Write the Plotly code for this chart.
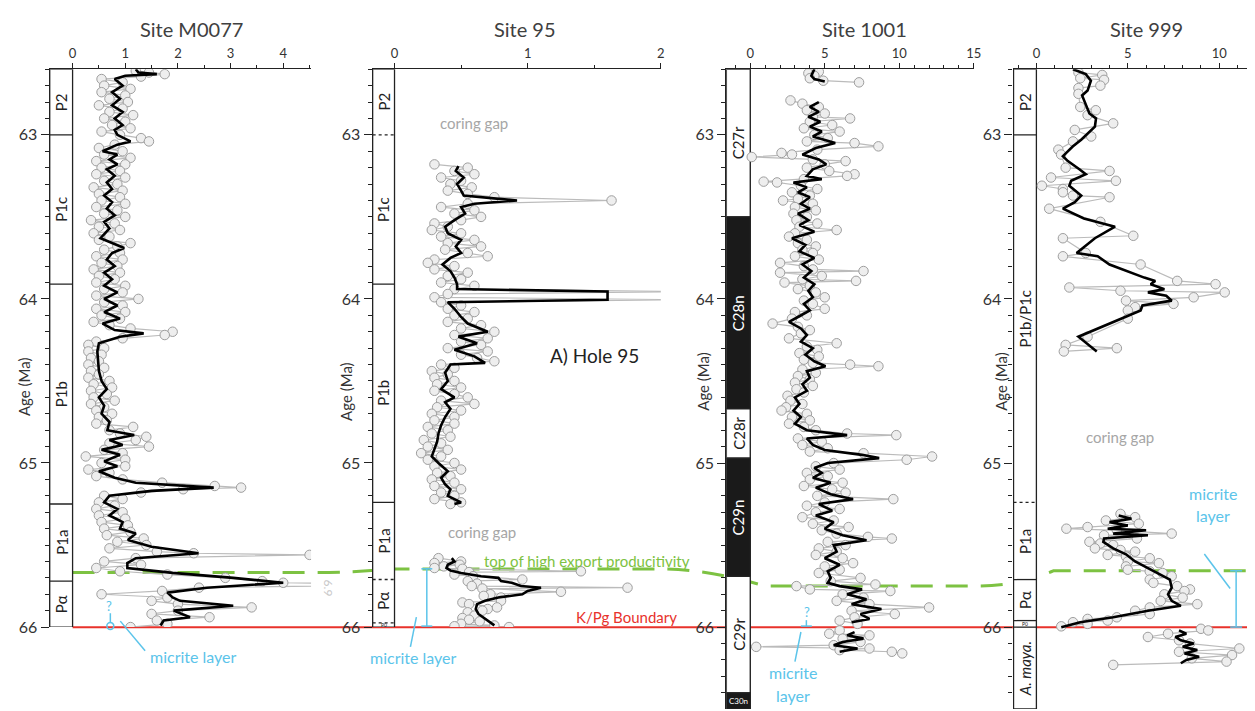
import plotly.graph_objects as go

W, H = 1255, 711
FONT = "Lato"

# ---------------- DATA ----------------
# Site M0077 raw (age Ma, value)
m77_age = [62.61,62.62,62.63,62.645,62.66,62.68,62.70,62.72,62.74,62.76,
           62.78,62.80,62.82,62.84,62.86,62.88,62.90,62.92,62.94,62.96,
           62.98,63.00,63.02,63.04,63.06,63.08,63.10,63.12,63.14,63.16,
           63.18,63.20,63.22,63.24,63.26,63.28,63.30,63.32,63.34,63.36,
           63.38,63.40,63.42,63.44,63.46,63.48,63.50,63.52,63.54,63.56,
           63.58,63.60,63.62,63.64,63.66,63.68,63.70,63.72,63.74,63.76,
           63.78,63.80,63.82,63.84,63.86,63.88,63.90,63.92,63.94,63.96,
           63.98,64.00,64.02,64.04,64.06,64.08,64.10,64.12,64.14,64.16,
           64.18,64.20,64.22,64.24,64.26,64.28,64.30,64.32,64.34,64.36,
           64.38,64.40,64.42,64.44,64.46,64.48,64.50,64.52,64.54,64.56,
           64.58,64.60,64.62,64.64,64.66,64.68,64.70,64.72,64.74,64.76,
           64.78,64.80,64.82,64.84,64.86,64.88,64.90,64.92,64.94,64.96,
           64.98,65.00,65.02,65.04,65.06,65.08,65.10,65.12,65.14,65.15,
           65.16,65.18,65.20,65.22,65.24,65.26,65.28,65.30,65.32,65.34,
           65.36,65.38,65.40,65.42,65.44,65.46,65.48,65.50,65.52,65.54,
           65.55,65.56,65.58,65.60,65.62,65.64,65.66,65.68,65.70,65.72,
           65.73,65.74,65.76,65.78,65.80,65.82,65.84,65.86,65.88,65.90,
           65.92,65.94,65.96,65.98,66.00]
m77_val = [1.2,1.45,1.75,1.3,0.55,0.95,0.6,1.1,0.55,1.0,
           0.7,1.05,0.5,0.95,0.7,1.15,0.6,1.0,0.75,1.1,
           0.55,0.9,1.3,1.45,0.8,0.5,0.95,0.6,1.1,0.45,
           1.0,0.55,0.9,0.45,1.0,0.6,0.85,0.4,0.95,0.5,
           0.9,0.55,1.0,0.45,0.85,0.6,1.0,0.35,0.8,0.5,
           0.9,0.4,0.7,0.5,1.1,0.85,0.6,0.9,0.45,0.95,
           0.55,0.85,0.4,0.9,0.5,0.8,0.45,1.0,0.6,0.95,
           0.45,1.25,0.6,0.95,0.45,1.0,0.55,0.9,0.4,0.7,
           1.1,1.9,1.75,0.95,0.45,0.3,0.6,0.3,0.55,0.35,
           0.5,0.3,0.6,0.35,0.5,0.3,0.7,0.4,0.75,0.35,
           0.65,0.4,0.8,0.35,0.6,0.45,0.75,0.5,0.65,0.45,
           1.15,0.7,0.9,1.4,1.2,0.7,1.45,0.6,0.95,0.25,
           1.0,0.55,1.0,0.3,0.7,0.45,0.95,1.7,2.7,3.2,
           2.1,1.3,0.6,0.95,0.5,0.8,0.45,0.95,0.5,1.0,
           0.55,1.05,0.6,1.1,0.65,1.35,0.85,1.4,0.7,1.6,
           2.3,4.5,1.2,0.6,1.3,0.45,0.9,1.8,2.9,3.6,
           4.0,6.9,2.4,1.7,0.55,1.8,1.5,2.0,3.4,2.0,
           1.5,2.6,1.6,1.8,1.1]
# Site M0077 smoothed
m77_s_age = [62.60,62.62,62.63,62.64,62.66,62.70,62.74,62.78,62.82,62.86,
             62.90,62.94,62.97,63.00,63.04,63.06,63.10,63.12,63.15,63.18,
             63.21,63.25,63.29,63.33,63.37,63.41,63.45,63.49,63.53,63.57,
             63.63,63.66,63.69,63.72,63.76,63.80,63.84,63.88,63.92,63.96,
             64.00,64.04,64.08,64.12,64.15,64.19,64.21,64.23,64.27,64.32,
             64.38,64.44,64.50,64.55,64.60,64.65,64.70,64.75,64.80,64.83,
             64.86,64.89,64.92,64.95,64.99,65.02,65.05,65.09,65.12,65.14,
             65.15,65.17,65.20,65.24,65.28,65.32,65.36,65.40,65.43,65.47,
             65.51,65.55,65.58,65.61,65.64,65.67,65.70,65.73,65.76,65.79,
             65.82,65.84,65.87,65.90,65.94,65.96,65.99]
m77_s_val = [1.2,1.25,1.6,1.0,0.8,0.95,0.75,0.9,0.75,0.95,
             0.8,0.95,0.8,0.85,1.1,0.85,0.57,0.85,0.7,0.85,
             0.65,0.8,0.65,0.75,0.6,0.75,0.65,0.8,0.6,0.7,
             0.53,0.75,0.98,0.75,0.65,0.8,0.6,0.75,0.6,0.85,
             0.6,0.85,0.6,0.9,0.57,0.8,1.35,0.9,0.5,0.47,
             0.48,0.5,0.55,0.65,0.5,0.6,0.55,0.7,0.66,1.17,
             0.7,0.95,0.55,0.9,0.6,0.85,0.5,0.8,1.2,2.2,
             2.68,1.5,0.7,0.6,0.85,0.7,0.95,0.9,1.2,1.05,
             1.5,2.39,1.2,1.04,1.04,1.9,3.05,4.0,2.55,1.8,
             1.9,2.04,3.05,1.92,2.23,1.73,1.67]

# Site 95 raw, upper and lower segments
s95u_age = [63.18,63.20,63.22,63.24,63.26,63.28,63.30,63.32,63.34,63.36,
            63.38,63.40,63.42,63.44,63.46,63.48,63.50,63.52,63.54,63.56,
            63.58,63.60,63.62,63.64,63.66,63.68,63.70,63.72,63.74,63.76,
            63.78,63.80,63.82,63.84,63.86,63.88,63.90,63.92,63.94,63.955,
            63.97,63.99,64.005,64.02,64.04,64.06,64.08,64.10,64.12,64.14,
            64.16,64.18,64.20,64.22,64.24,64.26,64.28,64.30,64.32,64.34,
            64.36,64.38,64.40,64.42,64.44,64.46,64.48,64.50,64.52,64.54,
            64.56,64.58,64.60,64.62,64.64,64.66,64.68,64.70,64.72,64.74,
            64.76,64.78,64.80,64.82,64.84,64.86,64.88,64.90,64.92,64.94,
            64.96,64.98,65.00,65.02,65.04,65.06,65.08,65.10,65.12,65.14,
            65.16,65.18,65.20,65.22,65.24,65.25]
s95u_val = [0.3,0.55,0.45,0.6,0.35,0.5,0.42,0.58,0.4,0.55,
            0.75,1.63,0.55,0.35,0.6,0.45,0.65,0.5,0.3,0.4,
            0.28,0.5,0.35,0.6,0.4,0.65,0.38,0.55,0.7,0.3,
            0.25,0.45,0.3,0.55,0.4,0.5,0.35,0.6,0.45,2.2,
            0.4,0.3,2.2,0.35,0.5,0.4,0.6,0.45,0.55,0.4,
            0.65,0.5,0.75,0.45,0.7,0.5,0.65,0.4,0.7,0.5,
            0.62,0.75,0.35,0.45,0.28,0.4,0.3,0.45,0.32,0.5,
            0.3,0.45,0.55,0.35,0.6,0.32,0.5,0.28,0.45,0.3,
            0.45,0.25,0.4,0.28,0.42,0.22,0.35,0.25,0.4,0.2,
            0.35,0.25,0.45,0.3,0.5,0.32,0.42,0.28,0.45,0.3,
            0.5,0.35,0.45,0.3,0.5,0.42]
s95l_age = [65.58,65.60,65.61,65.62,65.63,65.64,65.645,65.66,65.665,65.68,
            65.69,65.71,65.72,65.735,65.75,65.76,65.765,65.785,65.80,65.81,
            65.82,65.84,65.85,65.86,65.88,65.89,65.90,65.91,65.93,65.945,
            65.955,65.965,65.98,65.99,65.995,66.0]
s95l_val = [0.33,0.5,0.3,0.49,0.37,0.3,0.51,1.4,0.56,0.45,
            0.59,0.96,0.55,0.62,0.58,1.75,0.66,1.25,0.72,0.67,
            0.8,0.8,0.51,0.56,0.77,0.7,0.66,0.55,0.6,0.51,
            0.56,0.64,0.5,0.75,0.45,0.86]
s95u_s_age = [63.19,63.22,63.26,63.30,63.34,63.37,63.40,63.42,63.44,63.48,
              63.52,63.56,63.60,63.64,63.68,63.72,63.75,63.79,63.83,63.87,
              63.91,63.94,63.955,64.005,64.02,64.06,64.11,64.15,64.20,64.23,
              64.27,64.31,64.35,64.39,64.40,64.45,64.50,64.55,64.60,64.63,
              64.67,64.72,64.77,64.82,64.87,64.92,64.96,65.00,65.05,65.09,
              65.13,65.16,65.20,65.24,65.25]
s95u_s_val = [0.48,0.46,0.52,0.47,0.5,0.52,0.92,0.6,0.5,0.53,
              0.45,0.38,0.4,0.5,0.46,0.5,0.42,0.36,0.42,0.45,
              0.47,0.47,1.6,1.6,0.4,0.45,0.5,0.55,0.7,0.48,
              0.62,0.45,0.6,0.68,0.42,0.38,0.4,0.35,0.45,0.38,
              0.42,0.38,0.35,0.33,0.32,0.3,0.28,0.33,0.4,0.35,
              0.38,0.42,0.4,0.5,0.45]
s95l_s_age = [65.58,65.60,65.62,65.64,65.655,65.67,65.69,65.70,65.72,65.73,
              65.75,65.76,65.78,65.80,65.82,65.84,65.86,65.89,65.92,65.95,
              65.97,65.99]
s95l_s_val = [0.43,0.45,0.4,0.39,0.42,0.5,0.65,0.78,0.8,0.88,
              0.95,1.1,1.0,0.96,0.78,0.68,0.62,0.61,0.63,0.68,
              0.72,0.75]

# Site 1001 raw (three segments)
s1001a_age = [62.605,62.615,62.625,62.64,62.655,62.67,62.68]
s1001a_val = [4.2,4.6,3.9,4.3,4.0,4.9,7.3]
s1001b_age = [62.79,62.81,62.83,62.85,62.87,62.89,62.90,62.92,62.94,62.96,
              62.98,63.00,63.02,63.04,63.05,63.07,63.09,63.11,63.12,63.135,
              63.15,63.16,63.18,63.20,63.22,63.24,63.25,63.27,63.285,63.29,
              63.31,63.33,63.35,63.37,63.39,63.40,63.42,63.44,63.46,63.48,
              63.50,63.52,63.54,63.56,63.58,63.60,63.62,63.64,63.66,63.68,
              63.70,63.72,63.74,63.76,63.78,63.80,63.82,63.83,63.84,63.86,
              63.88,63.89,63.90,63.92,63.94,63.96,63.99,64.01,64.03,64.06,
              64.08,64.10,64.12,64.15,64.17,64.19,64.21,64.24,64.27,64.29,
              64.31,64.33,64.35,64.37,64.39,64.40,64.41,64.43,64.45,64.47,
              64.49,64.51,64.53,64.55,64.57,64.59,64.62,64.64,64.66,64.68,
              64.70,64.72,64.74,64.76,64.78,64.80,64.82,64.83,64.85,64.87,
              64.89,64.91,64.93,64.94,64.96,64.98,65.00,65.02,65.04,65.06,
              65.08,65.10,65.12,65.14,65.16,65.18,65.20,65.22,65.24,65.26,
              65.28,65.30,65.33,65.35,65.37,65.39,65.41,65.43,65.45,65.46,
              65.48,65.50,65.52,65.54,65.56,65.58,65.61,65.63,65.65,65.67,
              65.70,65.72,65.74,65.75,65.77,65.78,65.80,65.82,65.84,65.86,
              65.88,65.90,65.92,65.94,65.96,65.98]
s1001b_val = [2.7,3.5,4.6,3.8,5.0,4.2,6.7,4.0,5.5,3.6,
              6.0,4.3,5.2,3.8,7.0,8.6,4.5,2.1,2.8,0.1,
              4.2,6.4,5.0,3.8,5.3,7.0,6.5,3.6,0.9,1.8,
              3.4,4.5,2.8,4.0,3.2,2.2,4.2,3.0,4.4,2.9,
              3.8,3.1,4.5,3.3,5.8,3.0,2.6,3.8,3.2,4.4,
              3.5,4.2,3.0,4.6,2.0,3.6,4.2,7.6,2.0,4.8,
              3.5,7.1,2.3,4.0,3.2,4.4,5.0,3.6,4.2,5.0,
              3.0,3.8,2.8,1.5,3.2,4.0,3.4,2.6,5.8,3.8,
              4.5,3.3,4.6,3.6,4.2,6.7,8.6,3.5,4.4,3.2,
              4.0,3.0,4.2,3.1,3.6,2.5,2.7,3.5,2.4,2.1,
              3.8,2.8,4.0,2.6,3.6,4.4,6.5,9.8,3.2,4.8,
              3.5,5.2,4.0,7.6,12.2,10.5,5.6,4.4,6.0,3.8,
              5.2,4.0,6.2,3.6,5.5,6.4,4.5,9.6,5.0,3.8,
              6.0,4.4,3.5,5.6,4.2,6.6,4.8,5.8,7.9,9.5,
              5.2,6.4,4.6,5.8,4.4,6.2,6.9,5.0,6.0,4.6,
              7.4,5.4,8.4,3.1,4.0,9.4,6.2,7.6,5.8,8.0,
              12.0,6.8,9.7,7.0,6.0,7.2]
s1001c_age = [66.02,66.04,66.05,66.07,66.09,66.11,66.12,66.13,66.14,66.15,66.16]
s1001c_val = [6.0,5.3,8.0,6.2,7.4,5.6,0.4,8.0,6.0,9.5,10.2]
s1001a_s_age = [62.60,62.62,62.64,62.66,62.675]
s1001a_s_val = [4.3,4.2,4.1,4.3,5.0]
s1001b_s_age = [62.80,62.83,62.86,62.89,62.92,62.95,62.98,63.01,63.05,63.08,
                63.12,63.15,63.18,63.21,63.25,63.27,63.29,63.32,63.35,63.38,
                63.42,63.45,63.48,63.52,63.55,63.59,63.63,63.67,63.71,63.75,
                63.79,63.83,63.87,63.91,63.95,63.99,64.03,64.07,64.11,64.14,
                64.18,64.22,64.26,64.30,64.34,64.38,64.41,64.44,64.48,64.52,
                64.56,64.60,64.64,64.68,64.72,64.76,64.80,64.83,64.85,64.89,
                64.92,64.95,64.97,65.00,65.03,65.06,65.09,65.12,65.15,65.19,
                65.22,65.25,65.29,65.32,65.36,65.40,65.44,65.47,65.50,65.54,
                65.58,65.62,65.66,65.70,65.73,65.75,65.77,65.80,65.83,65.86,
                65.89,65.92,65.95,65.97]
s1001b_s_val = [4.6,4.0,4.6,3.9,4.7,4.0,4.8,4.2,5.7,4.4,
                3.5,4.6,5.1,4.2,3.8,4.8,2.9,3.8,3.2,4.0,
                3.4,4.0,3.2,3.9,3.3,4.3,2.8,3.7,3.3,4.3,
                3.5,4.1,3.6,4.3,3.9,4.2,3.6,4.0,3.2,2.6,
                3.4,3.8,3.4,4.2,3.7,4.3,5.05,3.8,4.0,3.5,
                3.8,3.0,3.3,2.9,3.4,3.0,3.8,6.5,3.8,4.2,
                5.0,7.5,8.65,5.2,4.3,4.8,4.2,5.4,4.4,5.4,
                6.9,4.6,5.5,4.4,5.6,5.0,6.2,7.8,5.6,5.8,
                5.0,6.0,5.2,5.4,5.2,6.0,7.5,6.5,7.8,6.8,
                8.8,7.4,8.0,6.8]
s1001c_s_age = [66.03,66.05,66.07,66.09,66.11,66.13,66.15]
s1001c_s_val = [7.0,6.5,7.6,6.2,5.6,7.2,6.0]

# Site 999 raw (upper, lower, below K/Pg)
s999u_age = [62.62,62.635,62.655,62.665,62.70,62.715,62.75,62.83,62.85,62.88,
             62.93,62.97,63.01,63.04,63.09,63.12,63.20,63.22,63.26,63.28,
             63.31,63.33,63.35,63.37,63.38,63.45,63.53,63.615,63.63,63.72,
             63.74,63.79,63.89,63.91,63.93,63.95,63.96,63.99,64.01,64.03,
             64.05,64.07,64.12,64.23,64.28,64.30,64.32]
s999u_val = [2.3,3.6,2.4,3.7,3.5,2.3,2.3,2.4,3.25,2.8,
             4.2,2.1,3.0,2.0,1.2,1.35,1.6,4.0,0.8,4.35,
             0.3,1.45,1.45,2.0,4.0,0.7,3.5,5.3,1.45,2.7,
             1.45,5.7,7.7,9.8,1.8,4.6,10.3,8.6,4.9,7.5,
             5.4,5.0,5.0,2.8,1.6,4.4,1.5]
s999l_age = [65.31,65.33,65.35,65.37,65.39,65.40,65.41,65.43,65.44,65.46,
             65.48,65.49,65.50,65.52,65.53,65.54,65.56,65.57,65.58,65.60,
             65.61,65.63,65.65,65.66,65.67,65.69,65.71,65.73,65.75,65.77,
             65.78,65.80,65.82,65.84,65.86,65.88,65.90,65.92,65.94,65.95,
             65.96,65.97,65.98,65.995]
s999l_val = [4.6,5.4,3.8,5.6,2.8,1.64,4.4,7.4,3.7,5.5,
             2.9,3.5,4.2,3.2,4.6,5.4,3.9,4.9,6.2,5.0,
             6.7,4.9,5.0,6.2,6.9,7.4,6.2,6.4,7.7,8.4,
             8.1,7.0,8.0,6.8,8.8,6.2,5.4,6.2,4.4,2.8,
             3.9,2.0,2.8,1.36]
s999k_age = [66.01,66.02,66.04,66.06,66.08,66.10,66.13,66.15,66.17,66.19,66.21,66.23]
s999k_val = [9.0,9.4,7.2,6.1,7.8,8.4,11.1,7.8,10.7,8.5,10.4,4.2]
s999u_s_age = [62.60,62.63,62.67,62.73,62.76,62.87,62.90,62.95,63.03,63.07,
               63.13,63.16,63.21,63.24,63.28,63.31,63.37,63.41,63.45,63.51,
               63.56,63.63,63.72,63.73,63.74,63.79,63.87,63.89,63.91,63.94,
               63.96,63.98,64.01,64.04,64.07,64.23,64.26,64.32]
s999u_s_val = [2.0,2.7,2.98,2.8,2.5,2.9,3.26,3.2,2.45,2.0,
               1.45,1.72,2.35,2.7,1.9,1.8,2.45,2.1,1.45,2.6,
               4.3,3.2,2.2,2.8,3.35,4.0,5.9,6.5,6.25,7.0,
               6.1,7.1,7.4,5.8,5.7,2.3,2.65,3.3]
s999l_s_age = [65.32,65.34,65.36,65.38,65.40,65.41,65.43,65.44,65.46,65.48,
               65.52,65.556,65.60,65.64,65.68,65.71,65.76,65.80,65.84,65.87,
               65.90,65.94,65.97,66.00]
s999l_s_val = [4.5,5.2,4.0,5.0,3.9,6.0,4.2,6.1,3.7,3.66,
               4.2,4.9,5.4,6.1,6.8,7.3,7.4,7.2,7.4,7.9,
               6.1,4.2,2.4,1.36]
s999k_s_age = [66.02,66.04,66.06,66.08,66.10,66.12,66.14,66.16,66.18,66.20,66.22]
s999k_s_val = [7.8,8.2,7.6,7.9,8.6,8.0,8.8,8.1,8.9,8.2,7.9]

# Biozones / chrons: (name, top age, bottom age)
zones_m77 = [("P2", 62.6, 63.0), ("P1c", 63.0, 63.91), ("P1b", 63.91, 65.25),
             ("P1a", 65.25, 65.72), ("Pα", 65.72, 66.0)]
zones_95 = [("P2", 62.6, 63.0), ("P1c", 63.0, 63.91), ("P1b", 63.91, 65.24),
            ("P1a", 65.24, 65.71), ("Pα", 65.71, 65.975), ("P0", 65.975, 66.0)]
chrons_1001 = [("C27r", 62.6, 63.5, False), ("C28n", 63.5, 64.67, True),
               ("C28r", 64.67, 64.97, False), ("C29n", 64.97, 65.69, True),
               ("C29r", 65.69, 66.40, False), ("C30n", 66.40, 66.5, True)]
zones_999 = [("P2", 62.6, 63.0), ("P1b/P1c", 63.0, 65.24), ("P1a", 65.24, 65.71),
             ("Pα", 65.71, 65.96), ("P0", 65.96, 66.0), ("<i>A. maya.</i>", 66.0, 66.5)]
dashed_95 = [63.0, 65.71, 65.975]
dashed_999 = [65.24]

kpg_age = 66.0
green_ages = [65.667, 65.645, 65.75, 65.657]

# ---------------- LAYOUT HELPERS ----------------
PXA = 166.2  # pixels per Myr in the reference


def X(px):
    return px / W


def Y(py):
    return 1 - py / H


TOP = 62.6
BOT_SCREEN = 710
AGE_BOT = TOP + (BOT_SCREEN - 62) / PXA
panels = [
    dict(key="", x0=42, x1=305, zero=65, ppu=53, bottom=66.0, ybot=627, dt=1, mdt=0.5, title="Site M0077", tx=185, ay=383, ax=16),
    dict(key="2", x0=367, x1=657, zero=389, ppu=134, bottom=66.0, ybot=627, dt=1, mdt=0.5, title="Site 95", tx=520, ay=388, ax=340),
    dict(key="3", x0=723, x1=972, zero=747, ppu=15, bottom=AGE_BOT, ybot=BOT_SCREEN, dt=5, mdt=1, title="Site 1001", tx=862, ay=378, ax=700),
    dict(key="4", x0=1012, x1=1255, zero=1035, ppu=18.4, bottom=AGE_BOT, ybot=BOT_SCREEN, dt=5, mdt=1, title="Site 999", tx=1146, ay=378, ax=1000),
]
for p in panels:
    p["xr"] = [(p["x0"] - p["zero"]) / p["ppu"], (p["x1"] - p["zero"]) / p["ppu"]]

fig = go.Figure()


def raw(ages, vals, key):
    fig.add_trace(go.Scatter(
        x=vals, y=ages, xaxis="x" + key, yaxis="y" + key, mode="lines+markers",
        line=dict(color="#bbbbbb", width=1.2),
        marker=dict(symbol="circle", size=9.5, color="#eeeeee", line=dict(color="#9e9e9e", width=1)),
        hoverinfo="skip"))


def smooth(ages, vals, key):
    fig.add_trace(go.Scatter(
        x=vals, y=ages, xaxis="x" + key, yaxis="y" + key, mode="lines",
        line=dict(color="#000000", width=2.6), hoverinfo="skip"))


raw(m77_age, m77_val, "")
smooth(m77_s_age, m77_s_val, "")
raw(s95u_age, s95u_val, "2")
raw(s95l_age, s95l_val, "2")
smooth(s95u_s_age, s95u_s_val, "2")
smooth(s95l_s_age, s95l_s_val, "2")
raw(s1001a_age, s1001a_val, "3")
raw(s1001b_age, s1001b_val, "3")
raw(s1001c_age, s1001c_val, "3")
smooth(s1001a_s_age, s1001a_s_val, "3")
smooth(s1001b_s_age, s1001b_s_val, "3")
smooth(s1001c_s_age, s1001c_s_val, "3")
raw(s999u_age, s999u_val, "4")
raw(s999l_age, s999l_val, "4")
raw(s999k_age, s999k_val, "4")
smooth(s999u_s_age, s999u_s_val, "4")
smooth(s999l_s_age, s999l_s_val, "4")
smooth(s999k_s_age, s999k_s_val, "4")

layout = dict(width=W, height=H, margin=dict(l=0, r=0, t=0, b=0),
              paper_bgcolor="white", plot_bgcolor="rgba(0,0,0,0)",
              showlegend=False, font=dict(family=FONT, color="#222"))
shapes = []
annotations = []

# K/Pg boundary and green productivity line (full-width, age coords of panel 3)
shapes.append(dict(type="line", xref="paper", yref="y3", x0=X(65), x1=1, y0=kpg_age, y1=kpg_age,
                   line=dict(color="#e8322b", width=2), layer="below"))
g1, g2, g3, g4 = green_ages
gpath = (f"M {X(65)},{g1} L {X(310)},{g1} Q {X(350)},{g1} {X(385)},{g2} "
         f"L {X(655)},{g2} Q {X(705)},{g2} {X(762)},{g3} "
         f"L {X(975)},{g3} Q {X(1015)},{g3} {X(1052)},{g4} L 1,{g4}")
shapes.append(dict(type="path", xref="paper", yref="y3", path=gpath,
                   line=dict(color="#7dc242", width=3, dash="22px,13px"), layer="below"))

for p in panels:
    k = p["key"]
    xa, ya = "xaxis" + k, "yaxis" + k
    layout[xa] = dict(domain=[X(p["x0"]), X(p["x1"])], range=p["xr"], side="top", anchor="y" + k,
                      showline=True, linecolor="#222", linewidth=1.3, ticks="outside", ticklen=5,
                      tickcolor="#222", tickmode="linear", tick0=0, dtick=p["dt"],
                      minor=dict(ticks="outside", ticklen=3, tickmode="linear", tick0=0, dtick=p["mdt"], tickcolor="#222"),
                      showgrid=False, zeroline=False, tickfont=dict(size=13, color="#333"), fixedrange=True)
    layout[ya] = dict(domain=[Y(p["ybot"]), Y(62)], range=[p["bottom"], TOP], anchor="x" + k, side="left",
                      showline=True, linecolor="#222", linewidth=1.3, ticks="outside", ticklen=8,
                      tickcolor="#222", tickmode="linear", tick0=63, dtick=1,
                      minor=dict(ticks="outside", ticklen=4, tickmode="linear", tick0=63, dtick=0.1, tickcolor="#222"),
                      showgrid=False, zeroline=False, tickfont=dict(size=16, color="#333"), fixedrange=True)
    annotations.append(dict(text=p["title"], xref="paper", yref="paper", x=X(p["tx"]), y=Y(21),
                            showarrow=False, font=dict(size=20, color="#404040")))
    annotations.append(dict(text="Age (Ma)", xref="paper", yref="paper", x=X(p["ax"]), y=Y(p["ay"]),
                            textangle=-90, showarrow=False, font=dict(size=15, color="#333")))
    # column frame
    shapes.append(dict(type="rect", xref="x" + k, yref="y" + k, x0=p["xr"][0], x1=0, y0=TOP, y1=p["bottom"],
                       fillcolor="white", line=dict(color="#222", width=1.3), layer="below"))


def zone_column(zones, p, dashed=()):
    k = p["key"]
    xl = p["xr"][0]
    for name, a0, a1 in zones:
        if a0 > TOP:
            dash = "dot" if a0 in dashed else "solid"
            shapes.append(dict(type="line", xref="x" + k, yref="y" + k, x0=xl, x1=0, y0=a0, y1=a0,
                               line=dict(color="#222", width=1.3, dash=dash), layer="below"))
        small = name == "P0"
        annotations.append(dict(text=name, xref="x" + k, yref="y" + k, x=xl / 2, y=(a0 + a1) / 2,
                                textangle=0 if small else -90, showarrow=False,
                                font=dict(size=5 if small else 15, color="#222")))


zone_column(zones_m77, panels[0])
zone_column(zones_95, panels[1], dashed_95)
zone_column(zones_999, panels[3], dashed_999)
p3 = panels[2]
for name, a0, a1, normal in chrons_1001:
    shapes.append(dict(type="rect", xref="x3", yref="y3", x0=p3["xr"][0], x1=0, y0=a0, y1=min(a1, AGE_BOT),
                       fillcolor="#1a1a1a" if normal else "white", line=dict(color="#222", width=1.3), layer="below"))
    small = name == "C30n"
    annotations.append(dict(text=name, xref="x3", yref="y3", x=p3["xr"][0] / 2,
                            y=(a0 + min(a1, AGE_BOT)) / 2,
                            textangle=0 if small else -90, showarrow=False,
                            font=dict(size=8 if small else 15, color="white" if normal else "#222")))

# text notes
GREY = "#a6a6a6"
BLUE = "#5bc4ea"
annotations += [
    dict(text="coring gap", xref="x2", yref="y2", x=0.6, y=62.925, showarrow=False, font=dict(size=15, color=GREY)),
    dict(text="coring gap", xref="x2", yref="y2", x=0.66, y=65.42, showarrow=False, font=dict(size=15, color=GREY)),
    dict(text="coring gap", xref="x4", yref="y4", x=4.6, y=64.84, showarrow=False, font=dict(size=15, color=GREY)),
    dict(text="A) Hole 95", xref="x2", yref="y2", x=1.5, y=64.345, showarrow=False, font=dict(size=19, color="#222")),
    dict(text="top of high export producitivity", xref="paper", yref="paper", x=X(477), y=Y(560),
         xanchor="left", showarrow=False, font=dict(size=15, color="#7dc242")),
    dict(text="K/Pg Boundary", xref="paper", yref="paper", x=X(570), y=Y(617),
         xanchor="left", showarrow=False, font=dict(size=15, color="#e8322b")),
    dict(text="6.9", xref="paper", yref="paper", x=X(322), y=Y(588), textangle=90,
         showarrow=False, font=dict(size=12, color="#c8c8c8")),
    # micrite notes
    dict(text="?", xref="paper", yref="paper", x=X(102), y=Y(606), showarrow=False, font=dict(size=13, color=BLUE)),
    dict(text="micrite layer", xref="paper", yref="paper", x=X(141), y=Y(657), xanchor="left",
         showarrow=False, font=dict(size=16, color=BLUE)),
    dict(text="micrite layer", xref="paper", yref="paper", x=X(408), y=Y(658),
         showarrow=False, font=dict(size=16, color=BLUE)),
    dict(text="?", xref="paper", yref="paper", x=X(804), y=Y(612), showarrow=False, font=dict(size=13, color=BLUE)),
    dict(text="micrite", xref="paper", yref="paper", x=X(790), y=Y(673), showarrow=False, font=dict(size=16, color=BLUE)),
    dict(text="layer", xref="paper", yref="paper", x=X(790), y=Y(696), showarrow=False, font=dict(size=16, color=BLUE)),
    dict(text="micrite", xref="paper", yref="paper", x=X(1213), y=Y(492), showarrow=False, font=dict(size=16, color=BLUE)),
    dict(text="layer", xref="paper", yref="paper", x=X(1213), y=Y(514), showarrow=False, font=dict(size=16, color=BLUE)),
]
for a in annotations:
    a.setdefault("xanchor", "center")
    a.setdefault("yanchor", "middle")


def pline(x0, y0, x1, y1, color=BLUE, width=1.5):
    shapes.append(dict(type="line", xref="paper", yref="paper", x0=X(x0), y0=Y(y0), x1=X(x1), y1=Y(y1),
                       line=dict(color=color, width=width)))


# M0077 micrite marker
pline(103, 613, 103, 623)
shapes.append(dict(type="circle", xref="paper", yref="paper", x0=X(99.5), x1=X(106.5), y0=Y(629.5), y1=Y(622.5),
                   line=dict(color=BLUE, width=1.5)))
pline(113, 621, 138, 651)
# Site 95 bracket
pline(421.5, 568, 421.5, 626)
pline(416, 568, 427, 568)
pline(416, 626, 427, 626)
pline(411, 617, 405, 647)
# Site 1001
pline(803.5, 620, 803.5, 626)
pline(798, 626, 809, 626)
pline(798, 632, 792, 662)
# Site 999 bracket
pline(1236, 570, 1236, 627)
pline(1230, 570, 1242, 570)
pline(1230, 627, 1242, 627)
pline(1204, 553, 1230, 588)

layout["shapes"] = shapes
layout["annotations"] = annotations
fig.update_layout(**layout)
fig.write_html("out.html")
